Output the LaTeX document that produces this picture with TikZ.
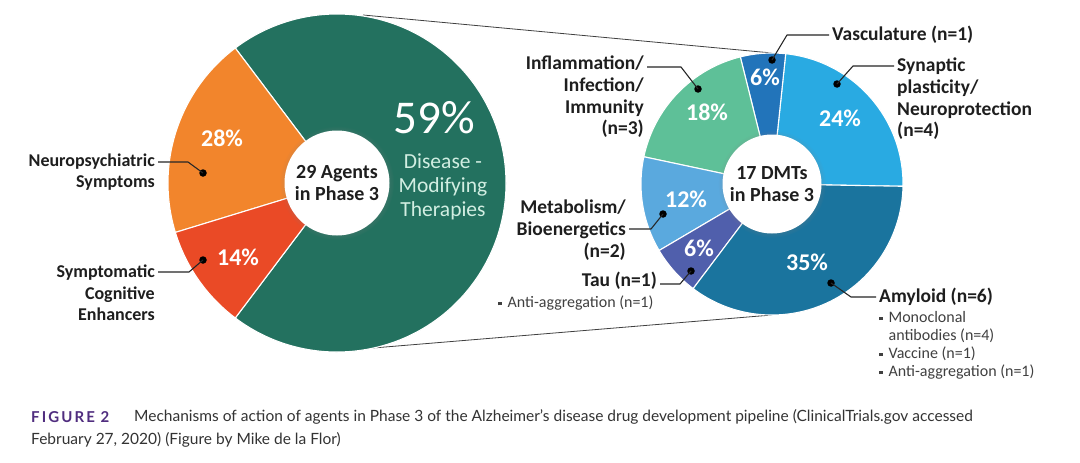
\documentclass[tikz,border=0pt]{standalone}
\usepackage{fontspec}
\setmainfont{Carlito}
\newfontfamily\capfont{Lato}
\newfontfamily\figfont[LetterSpace=14]{Lato}
\usepackage{tikz}
\usetikzlibrary{shadows}

\definecolor{dmtgreen}{RGB}{35,113,95}
\definecolor{npsorange}{RGB}{242,133,44}
\definecolor{cogred}{RGB}{234,74,38}
\definecolor{inflgreen}{RGB}{94,192,152}
\definecolor{vasblue}{RGB}{34,116,186}
\definecolor{synblue}{RGB}{41,170,226}
\definecolor{amyblue}{RGB}{26,116,158}
\definecolor{metblue}{RGB}{90,169,222}
\definecolor{taupurple}{RGB}{80,95,172}
\definecolor{dmtlight}{RGB}{210,238,226}
\definecolor{capviolet}{RGB}{80,45,127}
\definecolor{inktext}{RGB}{30,30,30}

\newcommand{\sqbul}{\raisebox{.28ex}{\rule{3.4pt}{3.4pt}}\hspace{6pt}}

\begin{document}
\begin{tikzpicture}[
   x=1pt,y=-1pt,
   slice/.style={draw=white,line width=1.1pt,line join=round},
   hub/.style={circle,fill=white,inner sep=0pt,align=center,text=inktext,
      font=\fontsize{20}{21.5}\selectfont\bfseries,
      circular drop shadow={shadow xshift=0pt,shadow yshift=0pt,shadow scale=1.09,opacity=.3}},
   pct/.style={text=white,font=\fontsize{24}{26}\selectfont\bfseries,inner sep=0pt},
   lbl/.style={text=inktext,font=\fontsize{18}{21.6}\selectfont\bfseries,inner sep=3pt},
   rlbl/.style={lbl,font=\fontsize{19.5}{21.7}\selectfont\bfseries},
   sub/.style={text=inktext!85,font=\fontsize{16}{18}\selectfont,inner sep=0pt,align=left},
   dot/.style={circle,fill=black,inner sep=0pt,minimum size=7.5pt},
   leader/.style={draw=black!85,line width=1.1pt,line join=round},
   zoomline/.style={draw=black!75,line width=.8pt}]
\useasboundingbox (0,0) rectangle (1080,463);
\fill[white] (0,0) rectangle (1080,463);

\coordinate (lc) at (337,183);
\coordinate (rc) at (772,184);
\coordinate (ltop) at (363,15);
\coordinate (lbot) at (373,348);
\coordinate (rtop) at (772,53);
\coordinate (rbot) at (772,315);
\draw[zoomline] (ltop) -- (rtop);
\draw[zoomline] (lbot) -- (rbot);

\fill[dmtgreen,slice] (lc) -- ++(-233:169) arc[start angle=-233,end angle=-487,radius=169] -- cycle;
\fill[npsorange,slice] (lc) -- ++(-127:169) arc[start angle=-127,end angle=-197,radius=169] -- cycle;
\fill[cogred,slice] (lc) -- ++(-197:169) arc[start angle=-197,end angle=-233,radius=169] -- cycle;

\fill[synblue,slice] (rc) -- ++(1:131) arc[start angle=1,end angle=-84,radius=131] -- cycle;
\fill[vasblue,slice] (rc) -- ++(-84:131) arc[start angle=-84,end angle=-104,radius=131] -- cycle;
\fill[inflgreen,slice] (rc) -- ++(-104:131) arc[start angle=-104,end angle=-168,radius=131] -- cycle;
\fill[metblue,slice] (rc) -- ++(-168:131) arc[start angle=-168,end angle=-210.5,radius=131] -- cycle;
\fill[taupurple,slice] (rc) -- ++(-210.5:131) arc[start angle=-210.5,end angle=-233,radius=131] -- cycle;
\fill[amyblue,slice] (rc) -- ++(-233:131) arc[start angle=-233,end angle=-359,radius=131] -- cycle;

\node[hub,minimum size=105pt] (agents) at (lc) {29 Agents\\in Phase 3};
\node[hub,minimum size=99pt] (dmts) at (rc) {17 DMTs\\in Phase 3};

\node[pct] (p28) at (222,138) {28\%};
\node[pct] (p14) at (238,257) {14\%};
\node[text=white,font=\fontsize{47}{47}\selectfont,inner sep=0pt] (p59) at (434,118) {59\%};
\node[text=dmtlight,font=\fontsize{21.5}{24}\selectfont,align=center,inner sep=0pt] (dmtname) at (443,187) {Disease -\\Modifying\\Therapies};

\node[pct] (p6v) at (765,77) {6\%};
\node[pct] (p24) at (840,118) {24\%};
\node[pct] (p18) at (707,112) {18\%};
\node[pct] (p12) at (686,199) {12\%};
\node[pct] (p6t) at (699,248) {6\%};
\node[pct] (p35) at (807,262) {35\%};

\node[lbl,align=right,anchor=east] (nplabel) at (158,172) {Neuropsychiatric\\Symptoms};
\node[lbl,align=right,anchor=east] (cglabel) at (158,293) {Symptomatic\\Cognitive\\Enhancers};
\node[rlbl,align=right,anchor=east] (inflabel) at (647,97) {Inflammation/\\Infection/\\Immunity\\(n=3)};
\node[rlbl,align=right,anchor=east] (metlabel) at (629,230) {Metabolism/\\Bioenergetics\\(n=2)};
\node[rlbl,anchor=east] (taulabel) at (660,281) {Tau (n=1)};
\node[sub,anchor=west] (taulist) at (498,303) {\sqbul Anti-aggregation (n=1)};
\node[rlbl,anchor=west] (vaslabel) at (829,35) {Vasculature (n=1)};
\node[rlbl,align=left,anchor=west] (synlabel) at (894,99) {Synaptic\\plasticity/\\Neuroprotection\\(n=4)};
\node[rlbl,anchor=west] (amylabel) at (876,297) {Amyloid (n=6)};
\node[sub,anchor=north west] (amylist) at (879,311) {\sqbul Monoclonal\\\phantom{\sqbul}antibodies (n=4)\\\sqbul Vaccine (n=1)\\\sqbul Anti-aggregation (n=1)};

\node[dot] (npdot) at (203,173) {};
\node[dot] (cgdot) at (203,260) {};
\node[dot] (infdot) at (698,89) {};
\node[dot] (vasdot) at (772,60) {};
\node[dot] (syndot) at (837,84) {};
\node[dot] (metdot) at (663,214) {};
\node[dot] (taudot) at (691,271) {};
\node[dot] (amydot) at (831,283) {};

\coordinate (npbend) at (188,162);
\coordinate (cgbend) at (189,272);
\coordinate (infbend) at (681,67);
\coordinate (vasbend) at (787,35);
\coordinate (synbend) at (853,66);
\coordinate (metbend) at (651,229);
\coordinate (taubend) at (680,284);
\coordinate (amybend) at (851,297);

\draw[leader] (npdot.center) -- (npbend) -- (npbend -| nplabel.east);
\draw[leader] (cgdot.center) -- (cgbend) -- (cgbend -| cglabel.east);
\draw[leader] (infdot.center) -- (infbend) -- (infbend -| inflabel.east);
\draw[leader] (vasdot.center) -- (vasbend) -- (vasbend -| vaslabel.west);
\draw[leader] (syndot.center) -- (synbend) -- (synbend -| synlabel.west);
\draw[leader] (metdot.center) -- (metbend) -- (metbend -| metlabel.east);
\draw[leader] (taudot.center) -- (taubend) -- (taubend -| taulabel.east);
\draw[leader] (amydot.center) -- (amybend) -- (amybend -| amylabel.west);

\node[anchor=west,inner sep=0pt,text=capviolet,font=\figfont\bfseries\fontsize{15}{18}\selectfont] (figtag) at (31,417) {FIGURE 2};
\node[anchor=west,inner sep=0pt,text=black!80,font=\capfont\fontsize{15.5}{18}\selectfont] (capline) at (134,417) {Mechanisms of action of agents in Phase 3 of the Alzheimer’s disease drug development pipeline (ClinicalTrials.gov accessed};
\node[anchor=west,inner sep=0pt,text=black!80,font=\capfont\fontsize{15.5}{18}\selectfont] (capnext) at (31,440) {February 27, 2020) (Figure by Mike de la Flor)};
\end{tikzpicture}
\end{document}
